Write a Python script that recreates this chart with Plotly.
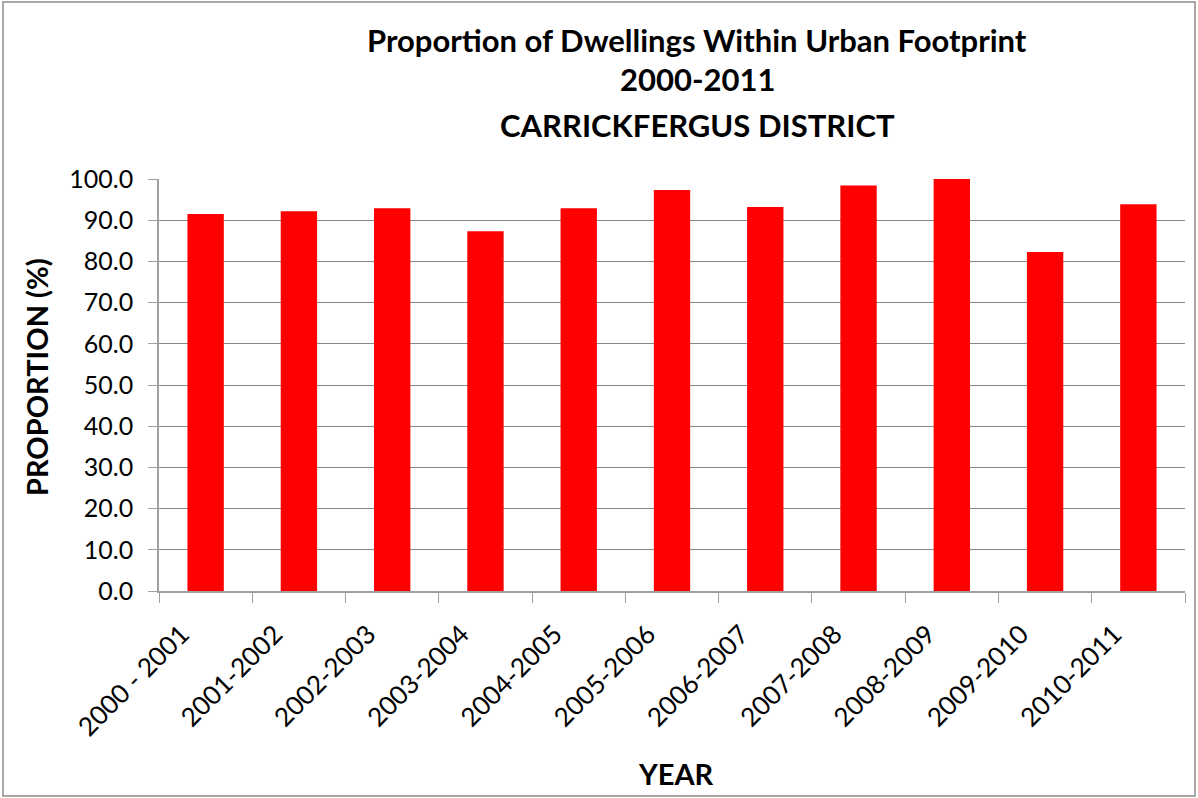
import plotly.graph_objects as go

# data
years = ["2000 - 2001", "2001-2002", "2002-2003", "2003-2004", "2004-2005", "2005-2006",
         "2006-2007", "2007-2008", "2008-2009", "2009-2010", "2010-2011"]
proportion = [91.5, 92.2, 92.9, 87.3, 92.9, 97.3, 93.2, 98.4, 100.0, 82.3, 93.9]
title_lines = ["Proportion of Dwellings Within Urban Footprint", "2000-2011", "CARRICKFERGUS DISTRICT"]

W, H = 1198, 798
L, R, T, B = 159, 13, 179, 207
pw = W - L - R
ph = H - T - B


def px_x(x):
    # pixel column -> paper x
    return (x - L) / pw


def px_y(y):
    # pixel row (from top) -> paper y
    return (H - B - y) / ph


fig = go.Figure(go.Bar(x=years, y=proportion, marker=dict(color="#ff0000", line_width=0),
                       width=0.39))

fig.update_layout(
    width=W, height=H,
    margin=dict(l=L, r=R, t=T, b=B),
    paper_bgcolor="white", plot_bgcolor="white",
    font=dict(family="Lato, Open Sans, sans-serif", color="black"),
    showlegend=False,
)

fig.update_yaxes(range=[0, 100], dtick=10, tickformat=".1f",
                 showgrid=True, gridcolor="#888888", gridwidth=1.3,
                 showline=True, linecolor="#a0a0a0", linewidth=1.5,
                 ticks="outside", ticklen=9, tickcolor="#a0a0a0",
                 ticklabelstandoff=10,
                 tickfont=dict(size=25), zeroline=False)

fig.update_xaxes(showline=True, linecolor="#a0a0a0", linewidth=1.5,
                 ticks="outside", ticklen=10, tickcolor="#a0a0a0", tickson="boundaries",
                 tickangle=-45, tickfont=dict(size=26), automargin=False,
                 ticklabelstandoff=16, ticklabelshift=-24)

# title, three lines placed one by one
for text, yc in zip(title_lines, [40, 79, 125]):
    fig.add_annotation(text="<b>%s</b>" % text, xref="paper", yref="paper",
                       x=px_x(697), y=px_y(yc), xanchor="center", yanchor="middle",
                       showarrow=False, font=dict(size=31))

# axis titles
fig.add_annotation(text="<b>PROPORTION (%)</b>", xref="paper", yref="paper",
                   x=px_x(36), y=px_y(377), xanchor="center", yanchor="middle",
                   textangle=-90, showarrow=False, font=dict(size=29))
fig.add_annotation(text="<b>YEAR</b>", xref="paper", yref="paper",
                   x=px_x(676), y=px_y(773), xanchor="center", yanchor="middle",
                   showarrow=False, font=dict(size=29))

# outer chart border
fig.add_shape(type="rect", xref="paper", yref="paper",
              x0=px_x(3), x1=px_x(W - 3), y0=px_y(H - 2), y1=px_y(2),
              line=dict(color="#8c8c8c", width=1.5), layer="below")

fig.write_html("out.html", config={"displayModeBar": False},
               post_script="document.body.style.margin='0';")
